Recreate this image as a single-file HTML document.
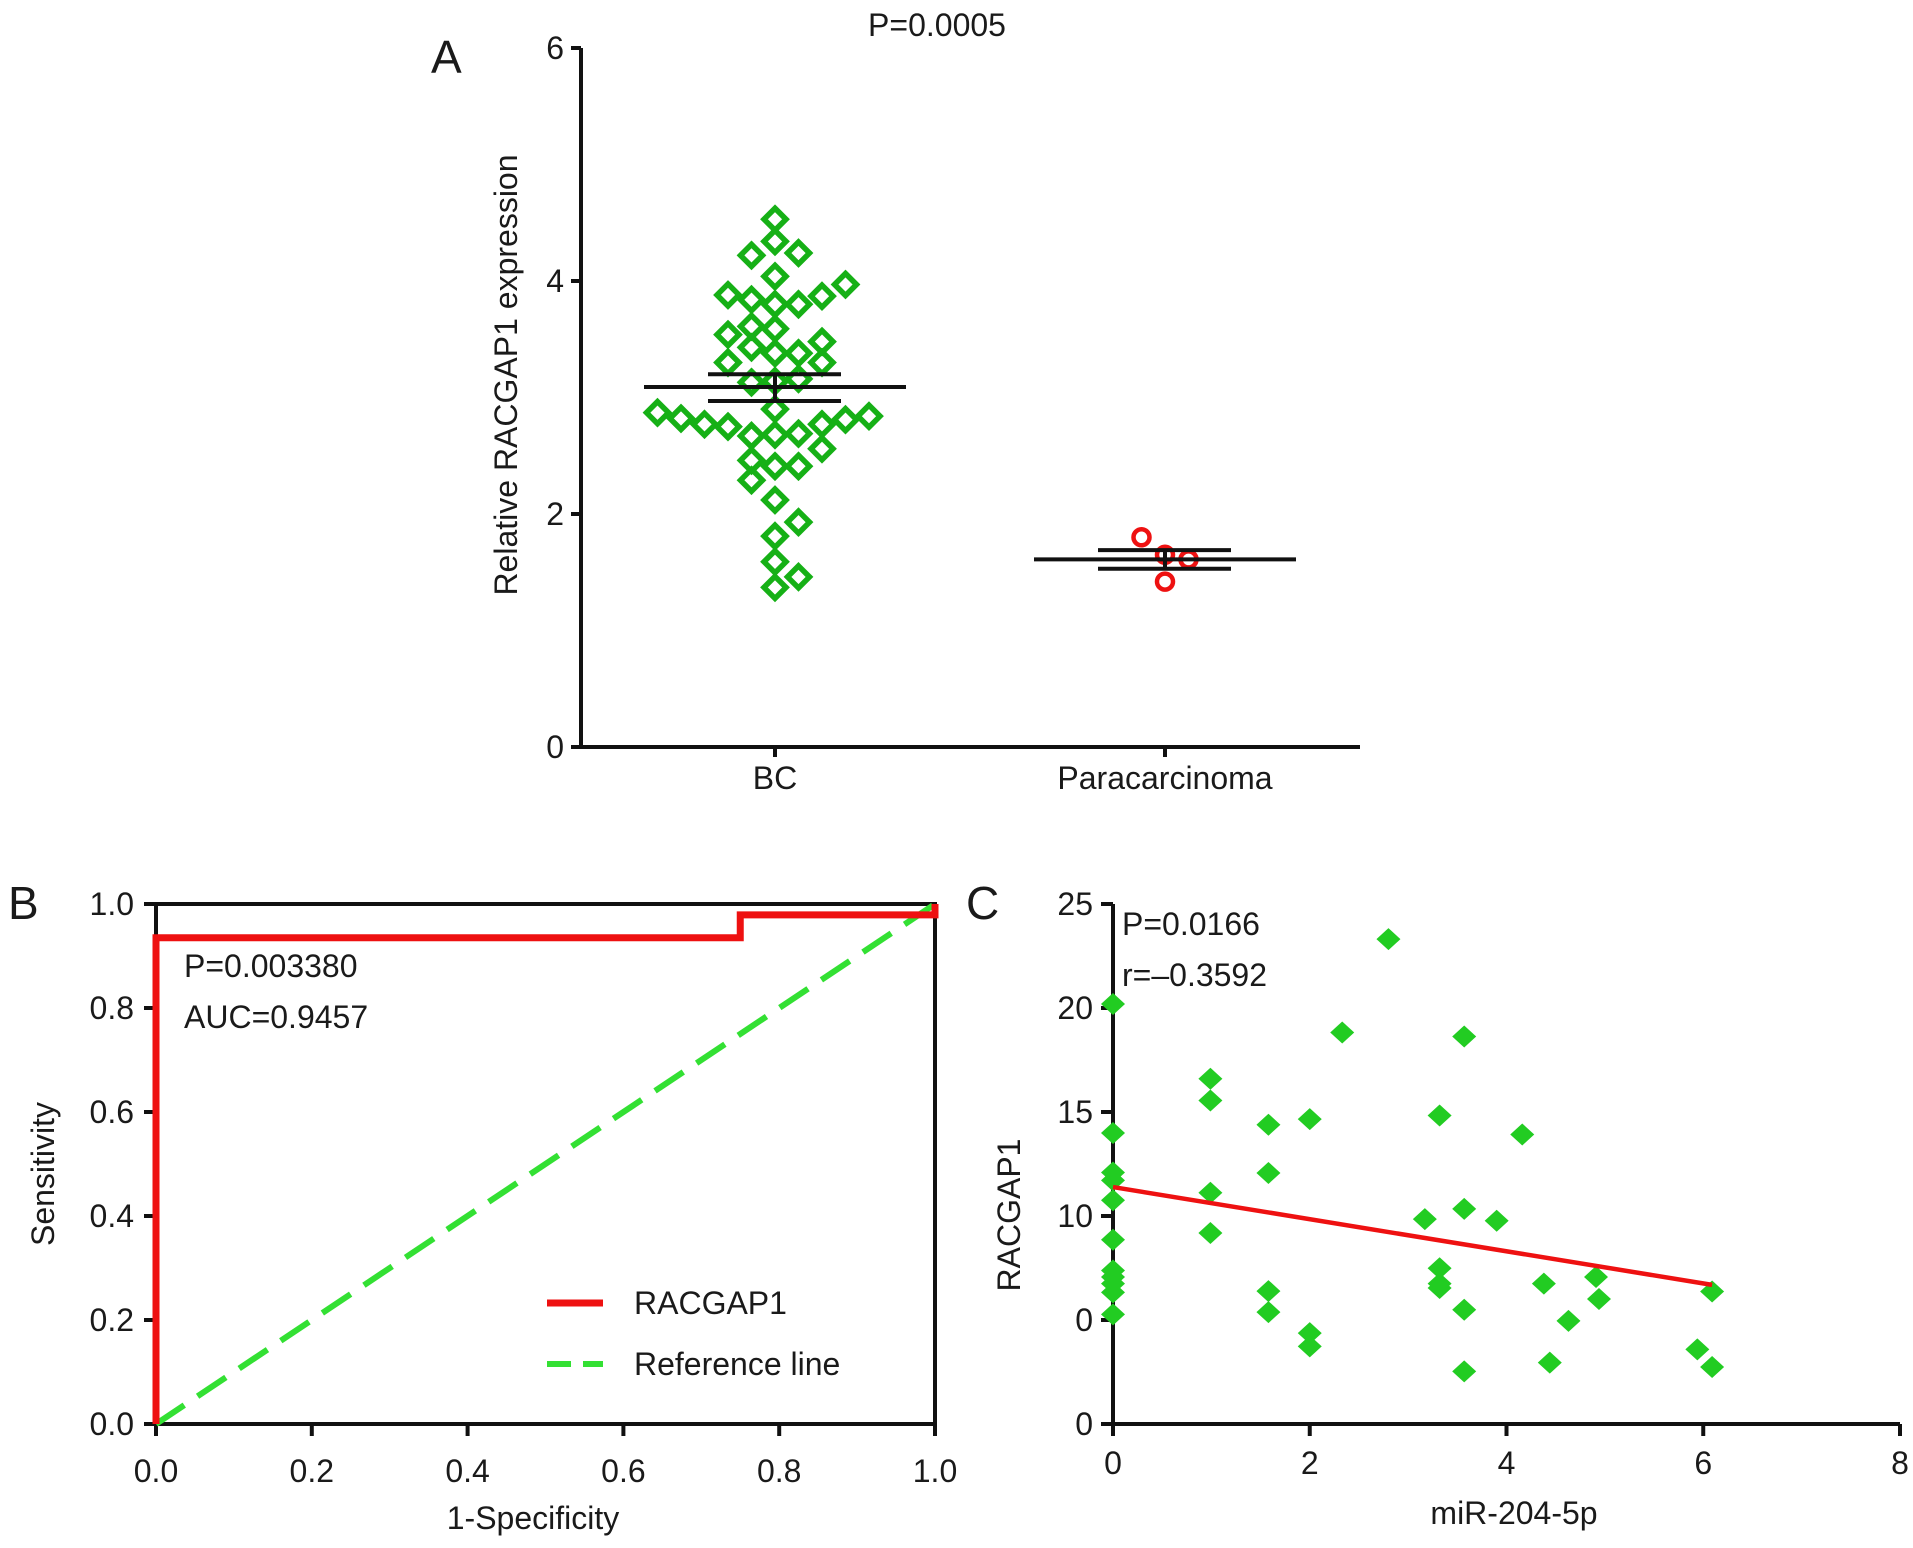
<!DOCTYPE html>
<html><head><meta charset="utf-8"><style>
html,body{margin:0;padding:0;background:#fff;}
svg{display:block;font-family:"Liberation Sans",Arial,sans-serif;}
text{fill:#1a1a1a;}
</style></head><body>
<svg id="fig" width="1913" height="1548" viewBox="0 0 1913 1548" xmlns="http://www.w3.org/2000/svg">
<g id="pa"></g>
<g id="pb"></g>
<g id="pc"></g>
</svg>
<script>
// ---------- Panel A data ----------
const aGroups = ["BC", "Paracarcinoma"];
const aTicks = [0, 2, 4, 6];
const bcValues = [4.53,4.34,4.22,4.24,4.04,3.88,3.84,3.80,3.80,3.87,3.97,3.54,3.61,3.59,3.43,3.48,3.38,3.38,3.30,3.30,3.13,3.14,3.16,2.90,2.87,2.82,2.77,2.75,2.67,2.68,2.69,2.77,2.81,2.84,2.56,2.46,2.41,2.41,2.29,2.12,1.93,1.81,1.59,1.46,1.37];
const bcJitter = [0,0,-1,1,0,-2,-1,0,1,2,3,-2,-1,0,-1,2,0,1,-2,2,-1,0,1,0,-5,-4,-3,-2,-1,0,1,2,3,4,2,-1,0,1,-1,0,1,0,0,1,0];
const paraValues = [1.80,1.65,1.61,1.42];
const paraJitter = [-1,0,1,0];
const aMeans = [3.09, 1.61];
const aSemHi = [3.20, 1.69];
const aSemLo = [2.97, 1.53];
// ---------- Panel B data ----------
const rocFpr = [0,0,0.75,0.75,1,1];
const rocTpr = [0,0.935,0.935,0.979,0.979,1];
const refX = [0,1];
const refY = [0,1];
const bTicks = [0,0.2,0.4,0.6,0.8,1.0];
const bTickLabels = ["0.0","0.2","0.4","0.6","0.8","1.0"];
// ---------- Panel C data ----------
const cX = [0,0,0,0,0,0,0,0,0,0,0,0.99,0.99,0.99,0.99,1.58,1.58,1.58,1.58,2.0,2.0,2.0,2.33,2.8,3.17,3.32,3.32,3.32,3.32,3.57,3.57,3.57,3.57,3.9,4.16,4.38,4.44,4.63,4.91,4.94,5.94,6.09,6.09];
const cY = [20.19,13.99,12.09,11.71,10.76,8.86,7.38,7.07,6.75,6.33,5.27,16.6,15.55,11.12,9.18,14.39,12.07,6.39,5.38,14.66,4.37,3.73,18.82,23.31,9.85,7.49,6.75,6.54,14.83,18.63,10.34,5.49,2.53,9.77,13.92,6.75,2.95,4.96,7.07,6.01,3.59,6.37,2.74];
const fitX = [0, 6.09];
const fitY = [11.39, 6.69];
const cXTicks = [0,2,4,6,8];
const cYTicks = [0,5,10,15,20,25];
const cYTickLabels = ["0","0","10","15","20","25"];

const NS = "http://www.w3.org/2000/svg";
const FS = 32;
function mk(parent, tag, attrs, txt){
  const e = document.createElementNS(NS, tag);
  for (const k in attrs) e.setAttribute(k, attrs[k]);
  if (txt !== undefined) e.textContent = txt;
  parent.appendChild(e);
  return e;
}

// ===== Panel A =====
(function(){
  const g = document.getElementById('pa');
  const x0 = 581, xEnd = 1360, yTop = 48, yBot = 747;
  const ay = v => yBot - v/6*(yBot-yTop);
  const ax = i => [775,1165][i];
  const jit = 23.5;
  let e;
  e = mk(g,'line',{x1:x0,y1:yTop,x2:x0,y2:yBot,stroke:'#111','stroke-width':4});
  
  
  e = mk(g,'line',{x1:x0-2,y1:yBot,x2:xEnd,y2:yBot,stroke:'#111','stroke-width':4});
  
  
  aTicks.forEach(t=>{
    mk(g,'line',{x1:x0-10,y1:ay(t),x2:x0,y2:ay(t),stroke:'#111','stroke-width':4});
    e = mk(g,'text',{x:x0-17,y:ay(t)+11,'font-size':FS,'text-anchor':'end'},String(t));
    
    
  });
  aGroups.forEach((name,i)=>{
    mk(g,'line',{x1:ax(i),y1:yBot,x2:ax(i),y2:yBot+10,stroke:'#111','stroke-width':4});
    e = mk(g,'text',{x:ax(i),y:789,'font-size':FS,'text-anchor':'middle'},name);
    
    
  });
  bcValues.forEach((v,i)=>{
    const cx = ax(0)+bcJitter[i]*jit, cy = ay(v);
    e = mk(g,'polygon',{points:`${cx},${cy-11} ${cx+11},${cy} ${cx},${cy+11} ${cx-11},${cy}`,fill:'none',stroke:'#16b016','stroke-width':5.5});
    
    
  });
  paraValues.forEach((v,i)=>{
    const cx = ax(1)+paraJitter[i]*jit, cy = ay(v);
    e = mk(g,'circle',{cx:cx,cy:cy,r:8,fill:'none',stroke:'#ee1111','stroke-width':4.5});
    
    
  });
  aMeans.forEach((m,i)=>{
    const cx = ax(i);
    e = mk(g,'line',{x1:cx-131,y1:ay(m),x2:cx+131,y2:ay(m),stroke:'#111','stroke-width':4});
    
    
    mk(g,'line',{x1:cx-67,y1:ay(aSemHi[i]),x2:cx+66,y2:ay(aSemHi[i]),stroke:'#111','stroke-width':4});
    mk(g,'line',{x1:cx-67,y1:ay(aSemLo[i]),x2:cx+66,y2:ay(aSemLo[i]),stroke:'#111','stroke-width':4});
    mk(g,'line',{x1:cx,y1:ay(aSemHi[i]),x2:cx,y2:ay(aSemLo[i]),stroke:'#111','stroke-width':4});
  });
  e = mk(g,'text',{x:506,y:375,'font-size':FS,'text-anchor':'middle',transform:'rotate(-90 506 375)',dy:11},'Relative RACGAP1 expression');
  
  
  e = mk(g,'text',{x:937,y:36,'font-size':FS,'text-anchor':'middle'},'P=0.0005');
  
  
  e = mk(g,'text',{x:431,y:73,'font-size':46},'A');
  
  
})();

// ===== Panel B =====
(function(){
  const g = document.getElementById('pb');
  const L=156, R=935, T=904, B=1424;
  const bx = v => L + v*(R-L);
  const by = v => B - v*(B-T);
  let e;
  e = mk(g,'rect',{x:L,y:T,width:R-L,height:B-T,fill:'none',stroke:'#111','stroke-width':4});
  
  
  bTicks.forEach((t,i)=>{
    mk(g,'line',{x1:bx(t),y1:B,x2:bx(t),y2:B+12,stroke:'#111','stroke-width':4});
    mk(g,'line',{x1:L-12,y1:by(t),x2:L,y2:by(t),stroke:'#111','stroke-width':4});
    e = mk(g,'text',{x:bx(t),y:1482,'font-size':FS,'text-anchor':'middle'},bTickLabels[i]);
    
    
    e = mk(g,'text',{x:134,y:by(t)+11,'font-size':FS,'text-anchor':'end'},bTickLabels[i]);
    
    
  });
  e = mk(g,'polyline',{points:refX.map((x,i)=>bx(x)+','+by(refY[i])).join(' '),fill:'none',stroke:'#33e033','stroke-width':6,'stroke-dasharray':'34 16'});
  
  
  e = mk(g,'polyline',{points:rocFpr.map((x,i)=>bx(x)+','+by(rocTpr[i])).join(' '),fill:'none',stroke:'#ee1111','stroke-width':7});
  
  
  e = mk(g,'text',{x:184,y:977,'font-size':FS},'P=0.003380');
  
  
  e = mk(g,'text',{x:184,y:1028,'font-size':FS},'AUC=0.9457');
  
  
  e = mk(g,'line',{x1:547,y1:1303,x2:603,y2:1303,stroke:'#ee1111','stroke-width':7});
  
  
  e = mk(g,'text',{x:634,y:1314,'font-size':FS},'RACGAP1');
  
  
  e = mk(g,'line',{x1:547,y1:1364,x2:603,y2:1364,stroke:'#33e033','stroke-width':6,'stroke-dasharray':'24 12'});
  
  
  e = mk(g,'text',{x:634,y:1375,'font-size':FS},'Reference line');
  
  
  e = mk(g,'text',{x:533,y:1529,'font-size':FS,'text-anchor':'middle'},'1-Specificity');
  
  
  e = mk(g,'text',{x:43,y:1174,'font-size':FS,'text-anchor':'middle',transform:'rotate(-90 43 1174)',dy:11},'Sensitivity');
  
  
  e = mk(g,'text',{x:8,y:919,'font-size':46},'B');
  
  
})();

// ===== Panel C =====
(function(){
  const g = document.getElementById('pc');
  const L=1113, R=1900, T=904, B=1424;
  const cx = v => L + v/8*(R-L);
  const cy = v => B - v/25*(B-T);
  let e;
  e = mk(g,'line',{x1:L,y1:T,x2:L,y2:B,stroke:'#111','stroke-width':4});
  
  
  e = mk(g,'line',{x1:L-2,y1:B,x2:R,y2:B,stroke:'#111','stroke-width':4});
  
  
  cXTicks.forEach(t=>{
    mk(g,'line',{x1:cx(t),y1:B,x2:cx(t),y2:B+12,stroke:'#111','stroke-width':4});
    e = mk(g,'text',{x:cx(t),y:1474,'font-size':FS,'text-anchor':'middle'},String(t));
    
    
  });
  cYTicks.forEach((t,i)=>{
    mk(g,'line',{x1:L-12,y1:cy(t),x2:L,y2:cy(t),stroke:'#111','stroke-width':4});
    e = mk(g,'text',{x:1093,y:cy(t)+11,'font-size':FS,'text-anchor':'end'},cYTickLabels[i]);
    
    
  });
  cX.forEach((x,i)=>{
    const px = cx(x), py = cy(cY[i]);
    e = mk(g,'polygon',{points:`${px},${py-11} ${px+12},${py} ${px},${py+11} ${px-12},${py}`,fill:'#22cc22'});
    
    
  });
  e = mk(g,'line',{x1:cx(fitX[0]),y1:cy(fitY[0]),x2:cx(fitX[1]),y2:cy(fitY[1]),stroke:'#ee1111','stroke-width':4.5});
  
  
  e = mk(g,'text',{x:1122,y:935,'font-size':FS},'P=0.0166');
  
  
  e = mk(g,'text',{x:1122,y:986,'font-size':FS},'r=\u20130.3592');
  
  
  e = mk(g,'text',{x:1514,y:1524,'font-size':FS,'text-anchor':'middle'},'miR-204-5p');
  
  
  e = mk(g,'text',{x:1009,y:1215,'font-size':FS,'text-anchor':'middle',transform:'rotate(-90 1009 1215)',dy:11},'RACGAP1');
  
  
  e = mk(g,'text',{x:966,y:919,'font-size':46},'C');
  
  
})();
</script>
</body></html>
